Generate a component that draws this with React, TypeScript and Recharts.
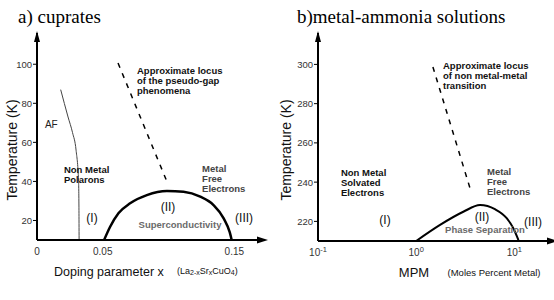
import React from 'react';
import { LineChart, Line, XAxis, YAxis, ReferenceDot } from 'recharts';

// ---- a) cuprates ----
const afBoundaryX = [0.018, 0.0236, 0.027, 0.0297, 0.0316, 0.0319, 0.032];
const afBoundaryT = [87, 73, 65, 56, 40, 25, 10];
const scDomeX = [0.051, 0.0556, 0.0619, 0.0708, 0.0835, 0.0988, 0.1114, 0.1241, 0.1342, 0.1419, 0.1465, 0.148];
const scDomeT = [10, 16.8, 23.7, 28.8, 33.0, 35.1, 34.7, 32.2, 27.9, 21.1, 14, 10];
const pseudoGapX = [0.0616, 0.0989];
const pseudoGapT = [100.6, 39.7];
const cupXTicks = [0, 0.05, 0.15];
const cupYTicks = [20, 40, 60, 80, 100];
const cupXDomain = [0, 0.168];
const cupYDomain = [10, 116];

// ---- b) metal-ammonia ----
const phaseSepMPM = [1.0, 1.75, 3.02, 4.47, 6.34, 8.35, 9.75, 11.0];
const phaseSepT = [210, 218.2, 224.9, 228.3, 226.2, 221.6, 216.5, 210.5];
const mmTransitionMPM = [1.48, 3.53];
const mmTransitionT = [298.7, 237];
const mpmXTicks = [0.1, 1, 10];
const mpmXTickExp = ['-1', '0', '1'];
const mpmYTicks = [220, 240, 260, 280, 300];
const mpmXDomain = [0.1, 22];
const mpmYDomain = [210, 316];

// annotations (anchor in data coordinates)
type Ann = { x: number; y: number; lines: string[]; kind: string };
const cupAnnotations: Ann[] = [
  { x: 0.006, y: 69.4, lines: ['AF'], kind: 'plain' },
  { x: 0.0205, y: 45.8, lines: ['Non Metal', 'Polarons'], kind: 'bold' },
  { x: 0.0418, y: 21.3, lines: ['(I)'], kind: 'roman' },
  { x: 0.0996, y: 26.9, lines: ['(II)'], kind: 'roman' },
  { x: 0.1087, y: 17.7, lines: ['Superconductivity'], kind: 'grayCenter' },
  { x: 0.1574, y: 21.3, lines: ['(III)'], kind: 'roman' },
  { x: 0.1255, y: 46.4, lines: ['Metal', 'Free', 'Electrons'], kind: 'dark' },
  { x: 0.076, y: 96.5, lines: ['Approximate locus', 'of the pseudo-gap', 'phenomena'], kind: 'bold' },
];
const mpmAnnotations: Ann[] = [
  { x: 1.875, y: 299.2, lines: ['Approximate locus', 'of non metal-metal', 'transition'], kind: 'bold' },
  { x: 5.26, y: 245.2, lines: ['Metal', 'Free', 'Electrons'], kind: 'dark' },
  { x: 0.171, y: 244.7, lines: ['Non Metal', 'Solvated', 'Electrons'], kind: 'bold' },
  { x: 0.481, y: 220.7, lines: ['(I)'], kind: 'roman' },
  { x: 4.68, y: 222.2, lines: ['(II)'], kind: 'roman' },
  { x: 15.5, y: 219.7, lines: ['(III)'], kind: 'roman' },
  { x: 5.02, y: 215.6, lines: ['Phase Separation'], kind: 'grayCenter' },
];

const SANS = '"Liberation Sans", Arial, Helvetica, sans-serif';
const SERIF = '"Liberation Serif", "Times New Roman", serif';

const zip = (xs: number[], ts: number[]) => xs.map((x, i) => ({ x, t: ts[i] }));

const annStyle = (kind: string) => {
  switch (kind) {
    case 'plain':
      return { fontSize: 10, fontWeight: 400, fill: '#222', anchor: 'start' };
    case 'roman':
      return { fontSize: 12, fontWeight: 400, fill: '#111', anchor: 'middle' };
    case 'grayCenter':
      return { fontSize: 9.5, fontWeight: 700, fill: '#6a6a6a', anchor: 'middle' };
    case 'dark':
      return { fontSize: 9.5, fontWeight: 700, fill: '#444', anchor: 'start' };
    default:
      return { fontSize: 9.5, fontWeight: 700, fill: '#111', anchor: 'start' };
  }
};

const renderAnn = (a: Ann) => (props: any) => {
  const s = annStyle(a.kind);
  return (
    <text
      x={props.cx}
      y={props.cy}
      textAnchor={s.anchor as any}
      fontFamily={SANS}
      fontSize={s.fontSize}
      fontWeight={s.fontWeight}
      fill={s.fill}
    >
      {a.lines.map((l, i) => (
        <tspan key={i} x={props.cx} dy={i === 0 ? '0.35em' : 10}>
          {l}
        </tspan>
      ))}
    </text>
  );
};

const arrowRight = (props: any) => (
  <polygon
    points={`${props.cx + 10},${props.cy} ${props.cx - 1},${props.cy - 3.5} ${props.cx - 1},${props.cy + 3.5}`}
    fill="#000"
  />
);
const arrowUp = (props: any) => (
  <polygon
    points={`${props.cx},${props.cy - 2} ${props.cx - 3},${props.cy + 9} ${props.cx + 3},${props.cy + 9}`}
    fill="#000"
  />
);

const ExpTick = (props: any) => {
  const { x, y, payload } = props;
  const idx = mpmXTicks.indexOf(payload.value);
  const exp = idx >= 0 ? mpmXTickExp[idx] : '';
  return (
    <text x={x} y={y} dy="0.71em" textAnchor="middle" fontFamily={SANS} fontSize={10} fill="#333">
      <tspan>10</tspan>
      <tspan dy={-4} fontSize={7.5}>{exp}</tspan>
    </text>
  );
};

const axisLine = { stroke: '#000', strokeWidth: 2 };
const tickStyle = { fontSize: 9.5, fill: '#333', fontFamily: SANS };

export default function App() {
  const afData = zip(afBoundaryX, afBoundaryT);
  const domeData = zip(scDomeX, scDomeT);
  const pgData = zip(pseudoGapX, pseudoGapT);
  const psData = zip(phaseSepMPM, phaseSepT);
  const mmData = zip(mmTransitionMPM, mmTransitionT);

  return (
    <div style={{ position: 'absolute', left: 0, top: 0, width: 554, height: 300, background: '#fff' }}>
      <div style={{ position: 'absolute', left: 0, top: 0 }}>
        <LineChart width={277} height={300} margin={{ top: 33, right: 19, left: 0, bottom: 0 }}>
          <XAxis
            type="number"
            dataKey="x"
            domain={cupXDomain}
            ticks={cupXTicks}
            allowDataOverflow
            tickFormatter={(v: number) => (v === 0 ? '0' : String(v))}
            tickLine={false}
            tickSize={0}
            tickMargin={8}
            axisLine={axisLine}
            tick={{ ...tickStyle, fontSize: 10 }}
            height={60}
            interval={0}
          />
          <YAxis
            type="number"
            dataKey="t"
            domain={cupYDomain}
            ticks={cupYTicks}
            allowDataOverflow
            width={37}
            tickSize={4}
            tickMargin={1}
            tickLine={{ stroke: '#000' }}
            axisLine={axisLine}
            tick={tickStyle}
            interval={0}
          />
          <Line data={afData} dataKey="t" type="monotone" stroke="#444" strokeWidth={1} dot={false} isAnimationActive={false} />
          <Line data={domeData} dataKey="t" type="monotone" stroke="#000" strokeWidth={2.5} dot={false} isAnimationActive={false} />
          <Line data={pgData} dataKey="t" type="linear" stroke="#000" strokeWidth={1.5} strokeDasharray="5 6" dot={false} isAnimationActive={false} />
          <ReferenceDot x={cupXDomain[1]} y={cupYDomain[0]} ifOverflow="visible" shape={arrowRight} />
          <ReferenceDot x={cupXDomain[0]} y={cupYDomain[1]} ifOverflow="visible" shape={arrowUp} />
          {cupAnnotations.map((a, i) => (
            <ReferenceDot key={i} x={a.x} y={a.y} ifOverflow="visible" shape={renderAnn(a)} />
          ))}
        </LineChart>
      </div>
      <div style={{ position: 'absolute', left: 277, top: 0 }}>
        <LineChart width={277} height={300} margin={{ top: 33, right: 6, left: 0, bottom: 0 }}>
          <XAxis
            type="number"
            dataKey="x"
            scale="log"
            domain={mpmXDomain}
            ticks={mpmXTicks}
            allowDataOverflow
            tickLine={false}
            tickSize={0}
            tickMargin={8}
            axisLine={axisLine}
            tick={<ExpTick />}
            height={59}
            interval={0}
          />
          <YAxis
            type="number"
            dataKey="t"
            domain={mpmYDomain}
            ticks={mpmYTicks}
            allowDataOverflow
            width={41}
            tickSize={4}
            tickMargin={1}
            tickLine={{ stroke: '#000' }}
            axisLine={axisLine}
            tick={tickStyle}
            interval={0}
          />
          <Line data={psData} dataKey="t" type="monotone" stroke="#000" strokeWidth={2} dot={false} isAnimationActive={false} />
          <Line data={mmData} dataKey="t" type="linear" stroke="#000" strokeWidth={1.5} strokeDasharray="5 6" dot={false} isAnimationActive={false} />
          <ReferenceDot x={mpmXDomain[1]} y={mpmYDomain[0]} ifOverflow="visible" shape={arrowRight} />
          <ReferenceDot x={mpmXDomain[0]} y={mpmYDomain[1]} ifOverflow="visible" shape={arrowUp} />
          {mpmAnnotations.map((a, i) => (
            <ReferenceDot key={i} x={a.x} y={a.y} ifOverflow="visible" shape={renderAnn(a)} />
          ))}
        </LineChart>
      </div>
      <svg width={554} height={300} style={{ position: 'absolute', left: 0, top: 0, pointerEvents: 'none' }}>
        <text x={18} y={23} fontFamily={SERIF} fontSize={19} fill="#000">a) cuprates</text>
        <text x={297} y={23} fontFamily={SERIF} fontSize={19} fill="#000">b)metal-ammonia solutions</text>
        <text transform="translate(17,150) rotate(-90)" textAnchor="middle" fontFamily={SANS} fontSize={14} fill="#111">Temperature (K)</text>
        <text transform="translate(291,150) rotate(-90)" textAnchor="middle" fontFamily={SANS} fontSize={14} fill="#111">Temperature (K)</text>
        <text x={54} y={276} fontFamily={SANS} fontSize={12.5} fill="#111">Doping parameter x</text>
        <text x={177} y={274} fontFamily={SANS} fontSize={9} fill="#111">
          (La<tspan fontSize={7} dy={1}>2-x</tspan><tspan dy={-1}>Sr</tspan><tspan fontSize={7} dy={1}>x</tspan><tspan dy={-1}>CuO</tspan><tspan fontSize={7} dy={1}>4</tspan><tspan dy={-1}>)</tspan>
        </text>
        <text x={414} y={277} textAnchor="middle" fontFamily={SANS} fontSize={13} fill="#111">MPM</text>
        <text x={494} y={276} textAnchor="middle" fontFamily={SANS} fontSize={9.5} fill="#111">(Moles Percent Metal)</text>
      </svg>
    </div>
  );
}
